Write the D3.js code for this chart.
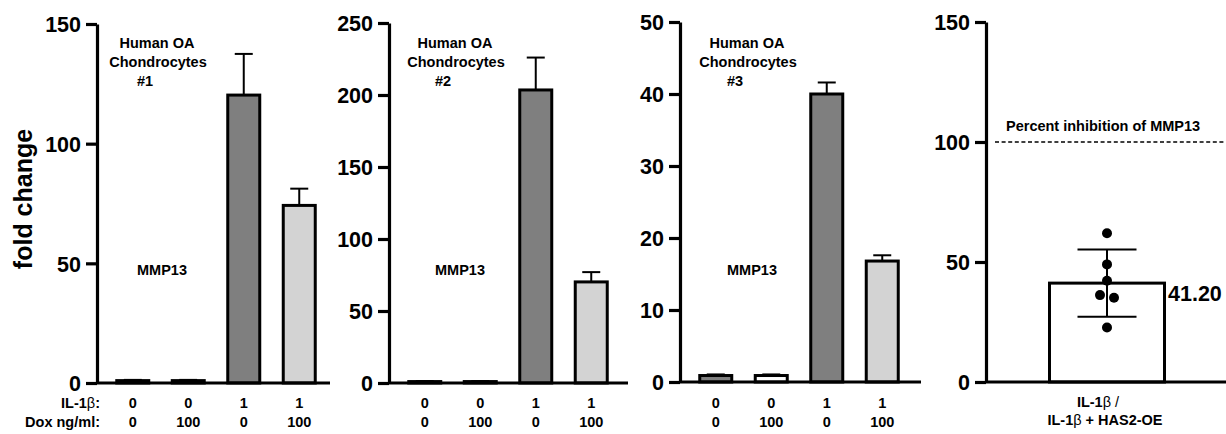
<!DOCTYPE html>
<html>
<head>
<meta charset="utf-8">
<script src="https://cdn.jsdelivr.net/npm/d3@7/dist/d3.min.js"></script>
<style>
  html, body { margin: 0; padding: 0; background: #fff; }
  svg { display: block; }
  text { font-family: "Liberation Sans", Arial, Helvetica, sans-serif; font-weight: bold; fill: #000; }
</style>
</head>
<body>
<svg id="chart" width="1226" height="434"></svg>
<script>
// ---------- DATA ----------
const categories = ["a", "b", "c", "d"];
const il1bLabels = ["0", "0", "1", "1"];
const doxLabels = ["0", "100", "0", "100"];

const donor1Values = [1.0, 1.0, 120.3, 74.2];
const donor1Errors = [0.3, 0.3, 17.2, 7.0];
const donor2Values = [1.0, 1.0, 203.5, 70.2];
const donor2Errors = [0.3, 0.3, 22.5, 6.8];
const donor3Values = [0.9, 0.9, 40.0, 16.8];
const donor3Errors = [0.15, 0.15, 1.6, 0.8];

const donor1Ticks = [0, 50, 100, 150];
const donor2Ticks = [0, 50, 100, 150, 200, 250];
const donor3Ticks = [0, 10, 20, 30, 40, 50];
const inhibitionTicks = [0, 50, 100, 150];

const inhibitionPoints = [62.0, 49.0, 42.2, 36.2, 35.1, 22.7];
const inhibitionMean = 41.20;
const inhibitionSD = 14.0;
const referenceLine = 100;

const barFills = ["#7f7f7f", "#ffffff", "#7f7f7f", "#d3d3d3"];

// ---------- LAYOUT ----------
const svg = d3.select("#chart");
const BLACK = "#000";
const AXW = 3.2;
const ANN = 14.5;

const panels = [
  { axisX: 97, xEnd: 330, yTop: 24, y0: 383, max: 150, ticks: donor1Ticks, values: donor1Values, errors: donor1Errors, label: "#1", annX: 60, showRowTitles: true },
  { axisX: 389, xEnd: 628, yTop: 23, y0: 383, max: 250, ticks: donor2Ticks, values: donor2Values, errors: donor2Errors, label: "#2", annX: 66, showRowTitles: false },
  { axisX: 680, xEnd: 921, yTop: 22, y0: 382, max: 50, ticks: donor3Ticks, values: donor3Values, errors: donor3Errors, label: "#3", annX: 67, showRowTitles: false }
];

function drawYAxis(g, y, ticks, axisX) {
  const ax = g.append("g")
    .attr("transform", `translate(${axisX},0)`)
    .call(d3.axisLeft(y).tickValues(ticks).tickSize(11).tickSizeOuter(0).tickPadding(5).tickFormat(d3.format("d")));
  ax.select(".domain").attr("stroke", BLACK).attr("stroke-width", AXW);
  ax.selectAll(".tick line").attr("stroke", BLACK).attr("stroke-width", AXW);
  ax.selectAll(".tick text")
    .attr("font-size", 21.5)
    .attr("font-family", "'Liberation Sans', Arial, sans-serif")
    .attr("font-weight", "bold")
    .attr("fill", BLACK)
    .attr("dy", "0.36em");
  return ax;
}

panels.forEach(p => {
  const g = svg.append("g");
  const y = d3.scaleLinear().domain([0, p.max]).range([p.y0, p.yTop]);
  const x = d3.scaleBand().domain(categories).range([p.axisX + 8, p.axisX + 230]).paddingInner(0).paddingOuter(0);

  // error bars (upper only)
  const capHalf = 9;
  categories.forEach((c, i) => {
    const cx = x(c) + x.bandwidth() / 2;
    const top = y(p.values[i] + p.errors[i]);
    g.append("line").attr("x1", cx).attr("x2", cx)
      .attr("y1", y(p.values[i])).attr("y2", top)
      .attr("stroke", BLACK).attr("stroke-width", 2);
    g.append("line").attr("x1", cx - capHalf).attr("x2", cx + capHalf)
      .attr("y1", top).attr("y2", top)
      .attr("stroke", BLACK).attr("stroke-width", 2);
  });

  // bars
  g.selectAll("rect.bar").data(p.values).join("rect")
    .attr("class", "bar")
    .attr("x", (d, i) => x(categories[i]) + x.bandwidth() / 2 - 16)
    .attr("width", 32)
    .attr("y", d => y(d))
    .attr("height", d => y(0) - y(d))
    .attr("fill", (d, i) => barFills[i])
    .attr("stroke", BLACK)
    .attr("stroke-width", 3);

  // x axis line
  g.append("line").attr("x1", p.axisX).attr("x2", p.xEnd)
    .attr("y1", y(0)).attr("y2", y(0))
    .attr("stroke", BLACK).attr("stroke-width", AXW);

  drawYAxis(g, y, p.ticks, p.axisX);

  // annotations
  const ax = p.axisX + p.annX;
  g.append("text").attr("x", ax).attr("y", 43).attr("text-anchor", "middle").attr("dy", "0.35em").attr("font-size", ANN).text("Human OA");
  g.append("text").attr("x", ax + 1).attr("y", 62).attr("text-anchor", "middle").attr("dy", "0.35em").attr("font-size", ANN).text("Chondrocytes");
  g.append("text").attr("x", ax - 12).attr("y", 81).attr("text-anchor", "middle").attr("dy", "0.35em").attr("font-size", ANN).text(p.label);
  g.append("text").attr("x", ax + 5).attr("y", 270).attr("text-anchor", "middle").attr("dy", "0.35em").attr("font-size", ANN).text("MMP13");

  // category labels
  categories.forEach((c, i) => {
    const cx = x(c) + x.bandwidth() / 2;
    g.append("text").attr("x", cx).attr("y", 403).attr("text-anchor", "middle").attr("dy", "0.35em").attr("font-size", ANN).text(il1bLabels[i]);
    g.append("text").attr("x", cx).attr("y", 422).attr("text-anchor", "middle").attr("dy", "0.35em").attr("font-size", ANN).text(doxLabels[i]);
  });

  if (p.showRowTitles) {
    const t1 = g.append("text").attr("x", 100).attr("y", 403).attr("text-anchor", "end").attr("dy", "0.35em").attr("font-size", ANN);
    t1.append("tspan").text("IL-1");
    t1.append("tspan").attr("font-weight", "normal").text("β");
    t1.append("tspan").text(":");
    g.append("text").attr("x", 100).attr("y", 422).attr("text-anchor", "end").attr("dy", "0.35em").attr("font-size", ANN).text("Dox ng/ml:");
  }
});

// y-axis title
svg.append("text")
  .attr("transform", "translate(23,199) rotate(-90)")
  .attr("text-anchor", "middle")
  .attr("dy", "0.35em")
  .attr("font-size", 25)
  .text("fold change");

// ---------- PANEL 4 ----------
{
  const axisX = 986;
  const g = svg.append("g");
  const y = d3.scaleLinear().domain([0, 150]).range([382, 22]);
  const x = d3.scaleBand().domain(["ratio"]).range([1048, 1166]);
  const cx = x("ratio") + x.bandwidth() / 2;

  // bar
  g.append("rect")
    .attr("x", x("ratio") + 1.5).attr("width", x.bandwidth() - 3)
    .attr("y", y(inhibitionMean)).attr("height", y(0) - y(inhibitionMean))
    .attr("fill", "#fff").attr("stroke", BLACK).attr("stroke-width", 3);

  // reference dashed line
  g.append("line").attr("x1", 995).attr("x2", 1226)
    .attr("y1", y(referenceLine)).attr("y2", y(referenceLine))
    .attr("stroke", BLACK).attr("stroke-width", 1.5).attr("stroke-dasharray", "4,2.6");
  g.append("text").attr("x", 1006).attr("y", 126).attr("dy", "0.35em").attr("font-size", ANN).text("Percent inhibition of MMP13");

  // points (simple dodge for overlapping points)
  const r = 5;
  const placed = [];
  inhibitionPoints.forEach(v => {
    const py = y(v);
    const near = placed.filter(q => Math.abs(q.py - py) < 2 * r);
    let dx = 0;
    if (near.length) {
      dx = 7;
      near.forEach(q => { if (q.dx === 0) q.dx = -7; });
    }
    placed.push({ py, dx });
  });
  g.selectAll("circle").data(placed).join("circle")
    .attr("cx", d => cx + d.dx).attr("cy", d => d.py).attr("r", r).attr("fill", BLACK);

  // SD error bar
  const hi = y(inhibitionMean + inhibitionSD), lo = y(inhibitionMean - inhibitionSD);
  g.append("line").attr("x1", cx).attr("x2", cx).attr("y1", hi).attr("y2", lo).attr("stroke", BLACK).attr("stroke-width", 2);
  [hi, lo].forEach(yy => g.append("line").attr("x1", cx - 29.5).attr("x2", cx + 29.5).attr("y1", yy).attr("y2", yy).attr("stroke", BLACK).attr("stroke-width", 2));

  // value label
  g.append("text").attr("x", 1168).attr("y", 293).attr("dy", "0.35em").attr("font-size", 21.5).text(d3.format(".2f")(inhibitionMean));

  // x axis
  g.append("line").attr("x1", axisX).attr("x2", 1226).attr("y1", y(0)).attr("y2", y(0)).attr("stroke", BLACK).attr("stroke-width", AXW);
  drawYAxis(g, y, inhibitionTicks, axisX);

  const l1 = g.append("text").attr("x", cx - 9).attr("y", 402).attr("text-anchor", "middle").attr("dy", "0.35em").attr("font-size", ANN);
  l1.append("tspan").text("IL-1");
  l1.append("tspan").attr("font-weight", "normal").text("β /");
  const l2 = g.append("text").attr("x", cx - 2).attr("y", 420).attr("text-anchor", "middle").attr("dy", "0.35em").attr("font-size", ANN);
  l2.append("tspan").text("IL-1");
  l2.append("tspan").attr("font-weight", "normal").text("β");
  l2.append("tspan").text(" + HAS2-OE");
}
</script>
</body>
</html>
